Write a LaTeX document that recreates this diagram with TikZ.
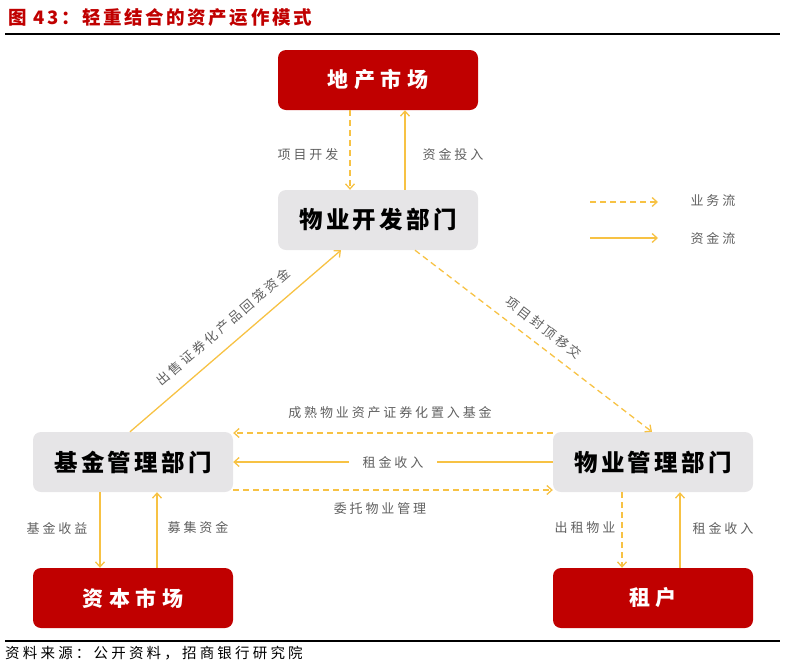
\documentclass[tikz,border=0pt]{standalone}
\usepackage{fontspec}
\setmainfont{Noto Sans CJK SC}
\newfontfamily\sptitle[LetterSpace=14]{Noto Sans CJK SC}
\newfontfamily\spbox[LetterSpace=14]{Noto Sans CJK SC}
\newfontfamily\spred[LetterSpace=26]{Noto Sans CJK SC}
\newfontfamily\splab[LetterSpace=22]{Noto Sans CJK SC}
\newfontfamily\spfoot[LetterSpace=22]{Noto Sans CJK SC}
\usetikzlibrary{arrows.meta,calc}
\definecolor{zsred}{HTML}{C00000}
\definecolor{boxgray}{HTML}{E6E5E7}
\definecolor{flow}{HTML}{F7C244}
\definecolor{lbl}{HTML}{606060}
\tikzset{
  redbox/.style={fill=zsred,rounded corners=8pt,minimum width=200pt,minimum height=60pt,inner sep=0pt,text=white,font=\spred\fontsize{21}{21}\selectfont\bfseries},
  graybox/.style={fill=boxgray,rounded corners=8pt,minimum width=200pt,minimum height=60pt,inner sep=0pt,text=black,font=\spbox\fontsize{23.5}{23.5}\selectfont\bfseries},
  money/.style={draw=flow,line width=1.3pt,-{Straight Barb[length=5pt,width=9pt]}},
  biz/.style={money,dash pattern=on 6pt off 4pt},
  lab/.style={text=lbl,font=\splab\fontsize{13}{13}\selectfont,inner sep=2pt}
}
\begin{document}
\begin{tikzpicture}[x=1pt,y=-1pt]
\useasboundingbox (0,0) rectangle (795,662);
% title
\node[anchor=west,text=zsred,font=\sptitle\fontsize{18.5}{18.5}\selectfont\bfseries,inner sep=0pt] (title) at (8,18) {图 43：轻重结合的资产运作模式};
\draw[line width=2pt] (5,34) -- (780,34);
% boxes
\node[redbox] (mkt) at (378,80) {地产市场};
\node[graybox] (dev) at (378,220) {物业开发部门};
\node[graybox] (fund) at (133,462) {基金管理部门};
\node[graybox] (pm) at (653,462) {物业管理部门};
\node[redbox] (cap) at (133,598) {资本市场};
\node[redbox] (ten) at (653,598) {租户};
% top arrows
\draw[biz] ([xshift=-28pt]mkt.south) -- ([xshift=-28pt]dev.north);
\node[lab] (l1) at (308,155) {项目开发};
\draw[money] ([xshift=27pt]dev.north) -- ([xshift=27pt]mkt.south);
\node[lab] (l2) at (453,155) {资金投入};
% diagonals
\draw[money] ([xshift=-3pt]fund.north) -- node[lab,sloped,above=10pt] {出售证券化产品回笼资金} ([xshift=-37pt]dev.south);
\draw[biz] ([xshift=37pt]dev.south) -- node[lab,sloped,above=8pt] {项目封顶移交} ([xshift=-1pt]pm.north);
% horizontals
\draw[biz] ([yshift=29pt]pm.west) -- ([yshift=29pt]fund.east);
\node[lab] (l3) at (390,413) {成熟物业资产证券化置入基金};
\draw[money] (pm.west) -- node[lab,fill=white,inner xsep=14pt] {租金收入} (fund.east);
\draw[biz] ([yshift=-28pt]fund.east) -- ([yshift=-28pt]pm.west);
\node[lab] (l4) at (380,509) {委托物业管理};
% verticals
\draw[money] ([xshift=-33pt]fund.south) -- ([xshift=-33pt]cap.north);
\node[lab] (l5) at (57,528) {基金收益};
\draw[money] ([xshift=24pt]cap.north) -- ([xshift=24pt]fund.south);
\node[lab] (l6) at (198,528) {募集资金};
\draw[biz] ([xshift=-31pt]pm.south) -- ([xshift=-31pt]ten.north);
\node[lab] (l7) at (585,528) {出租物业};
\draw[money] ([xshift=27pt]ten.north) -- ([xshift=27pt]pm.south);
\node[lab] (l8) at (723,528) {租金收入};
% legend
\coordinate (lg1a) at (590,202); \coordinate (lg1b) at (658,202);
\coordinate (lg2a) at (590,238); \coordinate (lg2b) at (658,238);
\draw[biz] (lg1a) -- (lg1b);
\node[lab] (lt1) at (713,201) {业务流};
\draw[money] (lg2a) -- (lg2b);
\node[lab] (lt2) at (713,239) {资金流};
% footer
\draw[line width=1.5pt] (5,641) -- (780,641);
\node[anchor=west,inner sep=0pt,font=\spfoot\fontsize{14.5}{14.5}\selectfont] (src) at (5,653) {资料来源：公开资料，招商银行研究院};
\end{tikzpicture}
\end{document}
